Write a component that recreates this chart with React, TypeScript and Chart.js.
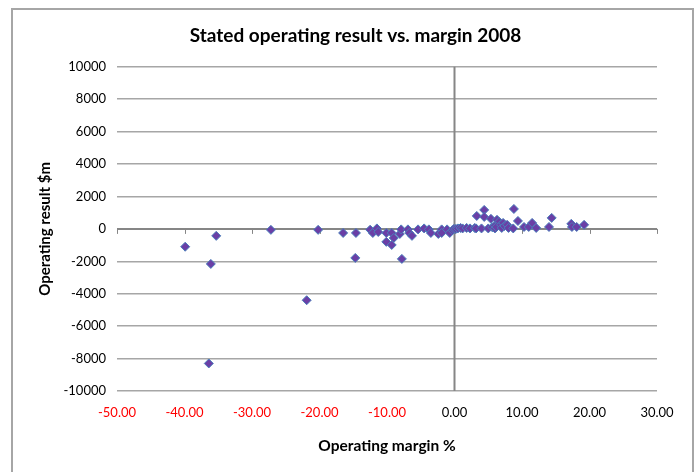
import React, { useEffect, useRef } from "react";
import { Chart, registerables } from "chart.js";

Chart.register(...registerables);

const titleText = "Stated operating result vs. margin 2008";
const xAxisTitle = "Operating margin %";
const yAxisTitle = "Operating result $m";

const xMin = -50;
const xMax = 30;
const xStep = 10;
const yMin = -10000;
const yMax = 10000;
const yStep = 2000;

// Operating margin % (x) and operating result $m (y)
const marginPct = [
  -39.9, -36.4, -36.1, -35.3, -27.2, -21.9, -20.2, -16.5, -14.6, -14.7,
  -12.5, -12.1, -11.5, -11.3, -10.1, -10.1, -9.3, -9.0, -9.3, -8.1,
  -7.9, -7.8, -6.9, -6.7, -6.3, -5.4, -4.5, -3.8, -3.5, -2.4,
  -1.9, -1.9, -1.1, -0.7, -0.3, -0.1,
  0.2, 0.5, 0.9, 1.2, 1.8, 2.3, 3.0, 3.2, 3.3, 4.0,
  4.4, 4.4, 5.0, 5.4, 5.6, 6.0, 6.0, 6.3, 6.6, 6.2,
  6.9, 7.0, 7.2, 7.4, 7.8, 8.0, 8.8, 8.7, 9.4, 10.3,
  11.0, 11.5, 12.1, 14.0, 14.4, 17.3, 17.4, 18.1, 19.2,
];
const operatingResult = [
  -1100, -8300, -2160, -430, -60, -4400, -60, -250, -250, -1790,
  -50, -250, 30, -190, -250, -800, -250, -560, -990, -310,
  -30, -1850, -30, -250, -430, -30, 30, -30, -250, -310,
  -30, -250, -30, -250, -80, 0,
  0, 30, 60, 30, 60, 30, 60, 30, 800, 30,
  1170, 740, 30, 620, 100, 30, 200, 560, 430, 120,
  250, 60, 370, 180, 250, 60, 1230, 30, 490, 120,
  120, 370, 60, 120, 680, 310, 120, 120, 250,
];

const fontFamily = "Lato, 'Liberation Sans', sans-serif";

const framePlugin = {
  id: "frame",
  beforeDraw(chart: any) {
    const { ctx, width, height } = chart;
    ctx.save();
    ctx.fillStyle = "#ffffff";
    ctx.fillRect(0, 0, width, height);
    ctx.strokeStyle = "#a6a6a6";
    ctx.lineWidth = 2;
    ctx.strokeRect(12, 9, 681, height + 10);
    ctx.restore();
  },
  beforeDatasetsDraw(chart: any) {
    const { ctx, chartArea, scales } = chart;
    const xs = scales.x;
    const ys = scales.y;
    const x0 = xs.getPixelForValue(0);
    const y0 = ys.getPixelForValue(0);
    ctx.save();
    ctx.strokeStyle = "#868686";
    ctx.lineWidth = 2;
    ctx.beginPath();
    ctx.moveTo(x0, chartArea.top);
    ctx.lineTo(x0, chartArea.bottom);
    ctx.moveTo(chartArea.left, y0);
    ctx.lineTo(chartArea.right, y0);
    ctx.stroke();
    ctx.lineWidth = 1;
    ctx.beginPath();
    for (let v = xMin; v <= xMax; v += xStep) {
      const px = Math.round(xs.getPixelForValue(v)) + 0.5;
      ctx.moveTo(px, y0);
      ctx.lineTo(px, y0 + 5);
    }
    ctx.stroke();
    ctx.restore();
  },
};

export default function App() {
  const ref = useRef<HTMLCanvasElement | null>(null);
  useEffect(() => {
    if (!ref.current) return;
    const points = marginPct.map((x, i) => ({ x, y: operatingResult[i] }));
    const chart = new Chart(ref.current, {
      type: "scatter",
      data: {
        datasets: [
          {
            label: "Companies",
            data: points,
            pointStyle: "rectRot",
            pointRadius: 4.5,
            pointBackgroundColor: "#6a3fa6",
            pointBorderColor: "#4a7ebb",
            pointBorderWidth: 1,
          },
        ],
      },
      options: {
        responsive: false,
        animation: false,
        layout: { padding: { left: 14, right: 0, top: 0, bottom: 0 } },
        plugins: {
          legend: { display: false },
          tooltip: { enabled: false },
          title: {
            display: true,
            text: titleText,
            color: "#000000",
            font: { family: fontFamily, size: 19, weight: "bold" },
            padding: { top: 24, bottom: 20 },
          },
        },
        scales: {
          x: {
            type: "linear",
            position: "bottom",
            min: xMin,
            max: xMax,
            afterFit: (s: any) => {
              s.height = 81;
            },
            ticks: {
              stepSize: xStep,
              padding: 14,
              color: (c: any) => (c.tick && c.tick.value < 0 ? "#ff0000" : "#000000"),
              font: { family: fontFamily, size: 13 },
              callback: (v: any) => Number(v).toFixed(2),
            },
            grid: { display: false, drawTicks: false },
            border: { display: false },
            title: {
              display: true,
              text: xAxisTitle,
              color: "#000000",
              font: { family: fontFamily, size: 15.5, weight: "bold" },
              padding: { top: 0, bottom: 17 },
            },
          },
          y: {
            type: "linear",
            min: yMin,
            max: yMax,
            afterFit: (s: any) => {
              s.width = 103;
            },
            ticks: {
              stepSize: yStep,
              padding: 11,
              color: "#000000",
              font: { family: fontFamily, size: 13 },
              callback: (v: any) => String(v),
            },
            grid: { color: "#a6a6a6", lineWidth: 1.5, drawTicks: false },
            border: { display: false },
            title: {
              display: true,
              text: yAxisTitle,
              color: "#000000",
              font: { family: fontFamily, size: 15, weight: "bold" },
              padding: { top: 22, bottom: 0 },
            },
          },
          yRight: {
            type: "linear",
            position: "right",
            min: yMin,
            max: yMax,
            afterFit: (s: any) => {
              s.width = 40;
            },
            ticks: { display: false },
            grid: { display: false, drawTicks: false },
            border: { display: false },
          },
        },
      },
      plugins: [framePlugin],
    });
    return () => chart.destroy();
  }, []);
  return (
    <div style={{ position: "fixed", left: 0, top: 0, width: 697, height: 472 }}>
      <canvas ref={ref} width={697} height={472} />
    </div>
  );
}
